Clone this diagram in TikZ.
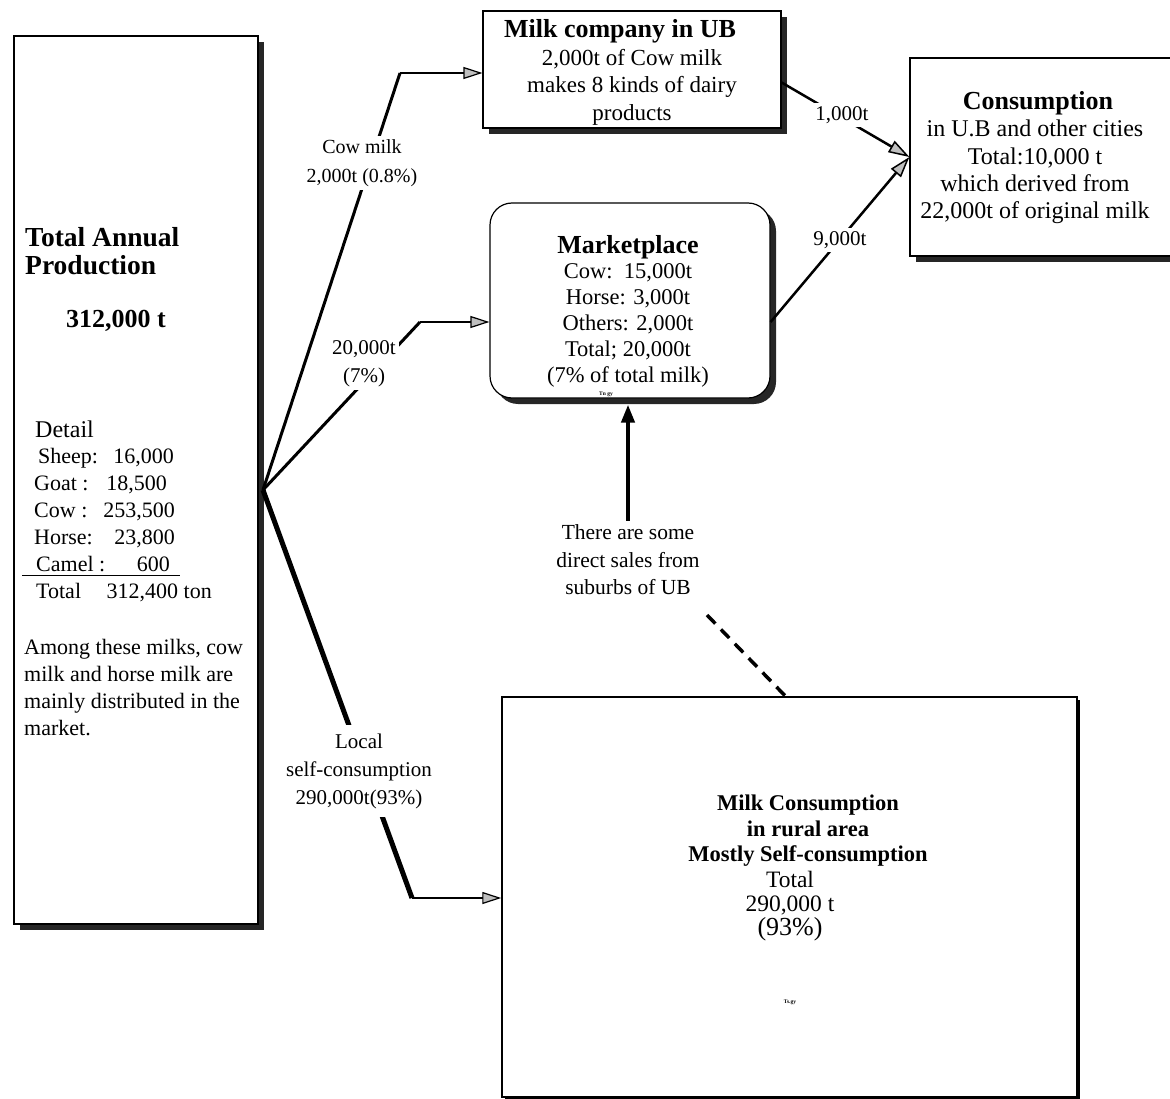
\documentclass[tikz,border=0pt]{standalone}
\usepackage{fontspec}
\setmainfont{Liberation Serif}
\usetikzlibrary{arrows.meta,shadows,calc}
\begin{document}
\begin{tikzpicture}[x=1pt,y=-1pt,
  box/.style={draw, line width=1.2pt, inner sep=0pt, fill=white},
  shad/.style={drop shadow={shadow xshift=6pt, shadow yshift=-6pt, opacity=1, fill=black!85}},
  bigbold/.style={inner sep=0pt, font=\fontsize{26}{28}\selectfont\bfseries},
  reg/.style={inner sep=0pt, font=\fontsize{22}{27}\selectfont},
  lab/.style={fill=white, inner sep=3pt, align=center},
  thickline/.style={line width=3pt},
  thinarrow/.style={line width=1.5pt, -{Triangle[length=19pt,width=12pt,fill=gray!50,line width=1.2pt]}},
  flowarrow/.style={line width=2.5pt, -{Triangle[length=21pt,width=13pt,fill=gray!50,line width=1.5pt]}},
  tiny/.style={inner sep=0pt, font=\fontsize{5.5}{7}\selectfont\bfseries}
]
\useasboundingbox (0,0) rectangle (1170,1099);

% boxes
\node[box, shad, minimum width=244pt, minimum height=888pt] (L) at (136,480) {};
\node[box, shad, minimum width=298pt, minimum height=117pt] (MC) at (632,69.5) {};
\node[box, shad, rounded corners=22pt, minimum width=280pt, minimum height=195pt] (MP) at (630,300.5) {};
\node[box, shad, minimum width=272pt, minimum height=198pt] (CO) at (1046,157) {};
\node[box, line width=1.5pt, drop shadow={shadow xshift=3pt, shadow yshift=-3pt, opacity=1, fill=black}, minimum width=575pt, minimum height=400pt] (BT) at (789.5,897) {};

% left box text
\node[inner sep=0pt, font=\fontsize{27.5}{28}\selectfont\bfseries, anchor=north west, align=left] (ltitle) at (25,227) {Total Annual\\Production};
\node[bigbold, anchor=base] (lnum) at (116,327) {312,000 t};
\node[inner sep=0pt, font=\fontsize{24}{27}\selectfont, anchor=base west] (ldet) at (35,437) {Detail};
\node[reg, anchor=base west] (s1) at (38,463) {Sheep:};
\node[reg, anchor=base east] (n1) at (174,463) {16,000};
\node[reg, anchor=base west] (s2) at (34,490) {Goat :};
\node[reg, anchor=base east] (n2) at (167,490) {18,500};
\node[reg, anchor=base west] (s3) at (34,517) {Cow :};
\node[reg, anchor=base east] (n3) at (175,517) {253,500};
\node[reg, anchor=base west] (s4) at (34,544) {Horse:};
\node[reg, anchor=base east] (n4) at (175,544) {23,800};
\node[reg, anchor=base west] (s5) at (36,571) {Camel :};
\node[reg, anchor=base east] (n5) at (170,571) {600};
\node[reg, anchor=base west] (s6) at (36,598) {Total};
\node[reg, anchor=base east] (n6) at (212,598) {312,400 ton};
\draw[line width=1pt] (22,575) -- (180,575);
\node[reg, anchor=north west, align=left] (among) at (24,639) {Among these milks, cow\\milk and horse milk are\\mainly distributed in the\\market.};

% milk company text
\node[bigbold, anchor=base] (mctitle) at (620,38) {Milk company in UB};
\node[reg, anchor=north, align=center, font=\fontsize{23}{27.5}\selectfont] (mctext) at (632,49) {2,000t of Cow milk\\makes 8 kinds of dairy\\products};

% consumption text
\node[bigbold, anchor=base] (cotitle) at (1038,110) {Consumption};
\node[reg, anchor=north, align=center, font=\fontsize{24}{27.3}\selectfont] (cotext) at (1035,120) {in U.B and other cities\\Total:10,000 t\\which derived from\\22,000t of original milk};

% marketplace text
\node[bigbold, anchor=base] (mptitle) at (628,254) {Marketplace};
\node[reg, anchor=north, align=center, font=\fontsize{22.5}{26}\selectfont] (mptext) at (628,263) {Cow:\ \ 15,000t\\Horse: 3,000t\\Others: 2,000t\\Total; 20,000t\\(7\% of total milk)};
\node[tiny, anchor=base] (mptiny) at (606,395) {Tn gy};

% rural text
\node[inner sep=0pt, anchor=north, align=center, font=\fontsize{22.5}{25.5}\selectfont\bfseries] (bttitle) at (808,795) {Milk Consumption\\in rural area\\Mostly Self-consumption};
\node[inner sep=0pt, anchor=north, align=center, font=\fontsize{23.5}{24}\selectfont] (bttext) at (790,871) {Total\\290,000 t\\{\fontsize{26}{24}\selectfont(93\%)}};
\node[tiny, anchor=base] (bttiny) at (790,1003) {Ts.gy};

% connectors
\coordinate (hub) at (263,490);
\coordinate (bcow) at (400,73);
\coordinate (b20) at (420,322);
\coordinate (bloc) at (412,898);
\draw[thickline] (hub) -- (bcow);
\draw[thinarrow] (bcow) -- (bcow -| MC.west);
\draw[thickline] (hub) -- (b20);
\draw[thinarrow] (b20) -- (b20 -| MP.west);
\draw[line width=5pt] (hub) -- (bloc);
\draw[thinarrow] (bloc) -- (bloc -| BT.west);

\draw[flowarrow] ([yshift=-13pt]MC.east) -- (CO.west);
\draw[flowarrow] ([yshift=-21.5pt]MP.east) -- (CO.west);

% labels on connectors
\node[lab, font=\fontsize{20}{29}\selectfont] (lcow) at (362,163) {Cow milk\\2,000t (0.8\%)};
\node[lab, font=\fontsize{21}{28}\selectfont] (l20) at (364,364) {20,000t\\(7\%)};
\node[lab, inner sep=8pt, font=\fontsize{21}{28}\selectfont] (lloc) at (359,771) {Local\\self-consumption\\290,000t(93\%)};
\node[lab, font=\fontsize{21}{25}\selectfont] (l1000) at (842,115) {1,000t};
\node[lab, font=\fontsize{21}{25}\selectfont] (l9000) at (840,240) {9,000t};

% direct sales
\node[align=center, inner sep=4pt, font=\fontsize{21.5}{27.5}\selectfont] (sales) at (628,560) {There are some\\direct sales from\\suburbs of UB};
\draw[line width=4pt, -{Triangle[length=18pt,width=13pt]}] (sales.north) -- ($(sales.north |- MP.south)+(0,6)$);
\coordinate (dstart) at (707,615);
\draw[line width=3.5pt, dash pattern=on 12pt off 8pt] (dstart) -- ($(BT.north)+(-4,0)$);
\end{tikzpicture}
\end{document}
